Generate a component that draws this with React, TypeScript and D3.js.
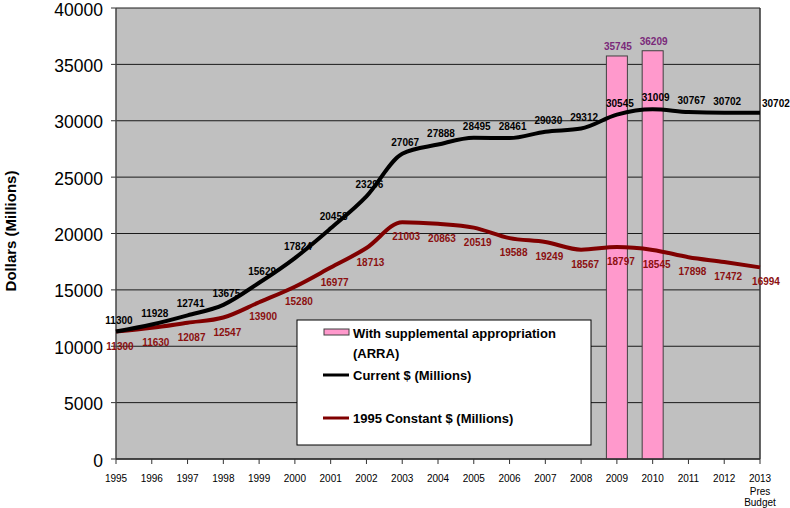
import React from "react";
import * as d3 from "d3";

const years = ["1995","1996","1997","1998","1999","2000","2001","2002","2003","2004","2005","2006","2007","2008","2009","2010","2011","2012","2013"];
const currentValues = [11300,11928,12741,13675,15629,17824,20458,23296,27067,27888,28495,28461,29030,29312,30545,31009,30767,30702,30702];
const constantValues = [11300,11630,12087,12547,13900,15280,16977,18713,21003,20863,20519,19588,19249,18567,18797,18545,17898,17472,16994];
const barYears = ["2009","2010"];
const barValues = [35745,36209];
const yTicks = [0,5000,10000,15000,20000,25000,30000,35000,40000];
const legendLabels = ["With supplemental appropriation", "(ARRA)", "Current $ (Millions)", "1995 Constant $ (Millions)"];
const yTitle = "Dollars (Millions)";
const lastYearExtra = ["Pres", "Budget"];

const W = 790, H = 508;
const L = 116, R = 760, T = 8, B = 459;
const FONT = "'Liberation Sans', Arial, sans-serif";

export default function App() {
  const x = d3.scalePoint<string>().domain(years).range([L, R]).padding(0);
  const y = d3.scaleLinear().domain([0, 40000]).range([B, T]);
  const line = d3.line<number>()
    .x((_, i) => x(years[i]) as number)
    .y((d) => y(d))
    .curve(d3.curveMonotoneX);
  const barW = 21;
  const fmt = (v: number) => String(v);
  const last = years.length - 1;

  return (
    <svg width={W} height={H} style={{ position: "absolute", left: 0, top: 0, display: "block" }} fontFamily={FONT}>
      <rect x={0} y={0} width={W} height={H} fill="#fff" />
      <rect x={L} y={T} width={R - L} height={B - T} fill="#c0c0c0" />
      {yTicks.map((t) => (
        <g key={t}>
          <line x1={L} x2={R} y1={y(t)} y2={y(t)} stroke="#1a1a1a" strokeWidth={1} />
          <line x1={L - 5} x2={L} y1={y(t)} y2={y(t)} stroke="#333" strokeWidth={1} />
          <text x={103} y={y(t) + 1.5} textAnchor="end" dominantBaseline="central" fontSize={17.5} fill="#000">{t}</text>
        </g>
      ))}
      {barYears.map((yr, i) => (
        <g key={yr}>
          <rect x={(x(yr) as number) - barW / 2} y={y(barValues[i])} width={barW} height={B - y(barValues[i])}
            fill="#ff99cc" stroke="#404040" strokeWidth={1} />
          <text x={(x(yr) as number) + 1} y={y(barValues[i]) - 6} textAnchor="middle" fontSize={10} fontWeight="bold" fill="#7a2a7a">{fmt(barValues[i])}</text>
        </g>
      ))}
      <line x1={L} x2={L} y1={T} y2={B} stroke="#444" strokeWidth={1.5} />
      <line x1={R} x2={R} y1={T} y2={B} stroke="#333" strokeWidth={1.5} />
      <line x1={L} x2={R} y1={B} y2={B} stroke="#333" strokeWidth={1.5} />
      {years.map((yr, i) => (
        <g key={yr}>
          <line x1={x(yr)} x2={x(yr)} y1={B} y2={B + 5} stroke="#333" strokeWidth={1} />
          <text x={x(yr)} y={478} textAnchor="middle" dominantBaseline="central" fontSize={10} fill="#000">{yr}</text>
          {i === last && lastYearExtra.map((s, k) => (
            <text key={s} x={x(yr)} y={491 + k * 11} textAnchor="middle" dominantBaseline="central" fontSize={10} fill="#000">{s}</text>
          ))}
        </g>
      ))}
      <path d={line(constantValues) || ""} fill="none" stroke="#800000" strokeWidth={4} />
      <path d={line(currentValues) || ""} fill="none" stroke="#000" strokeWidth={4} />
      {currentValues.map((v, i) => {
        const px = x(years[i]) as number;
        const py = y(v);
        if (i === last) {
          return <text key={i} x={px + 2} y={py - 6} textAnchor="start" fontSize={10} fontWeight="bold" fill="#000">{fmt(v)}</text>;
        }
        return <text key={i} x={px + 3} y={py - 8} textAnchor="middle" fontSize={10} fontWeight="bold" fill="#000">{fmt(v)}</text>;
      })}
      {constantValues.map((v, i) => {
        const px = x(years[i]) as number;
        const py = y(v);
        return <text key={i} x={px + (i === last ? 6 : 4)} y={py + 18} textAnchor="middle" fontSize={10} fontWeight="bold" fill="#8b1010">{fmt(v)}</text>;
      })}
      <g>
        <rect x={297} y={320} width={294} height={125} fill="#fff" stroke="#000" strokeWidth={1} />
        <rect x={324} y={329} width={25} height={6} fill="#ff99cc" stroke="#404040" strokeWidth={1} />
        <text x={353} y={333} dominantBaseline="central" fontSize={13} fontWeight="bold">{legendLabels[0]}</text>
        <text x={353} y={353} dominantBaseline="central" fontSize={13} fontWeight="bold">{legendLabels[1]}</text>
        <line x1={323} x2={349} y1={375} y2={375} stroke="#000" strokeWidth={3} />
        <text x={353} y={375} dominantBaseline="central" fontSize={13} fontWeight="bold">{legendLabels[2]}</text>
        <line x1={323} x2={349} y1={418} y2={418} stroke="#800000" strokeWidth={3} />
        <text x={353} y={418} dominantBaseline="central" fontSize={13} fontWeight="bold">{legendLabels[3]}</text>
      </g>
      <text transform={`translate(16,231) rotate(-90)`} textAnchor="middle" fontSize={15} fontWeight="bold" fill="#000">{yTitle}</text>
    </svg>
  );
}
